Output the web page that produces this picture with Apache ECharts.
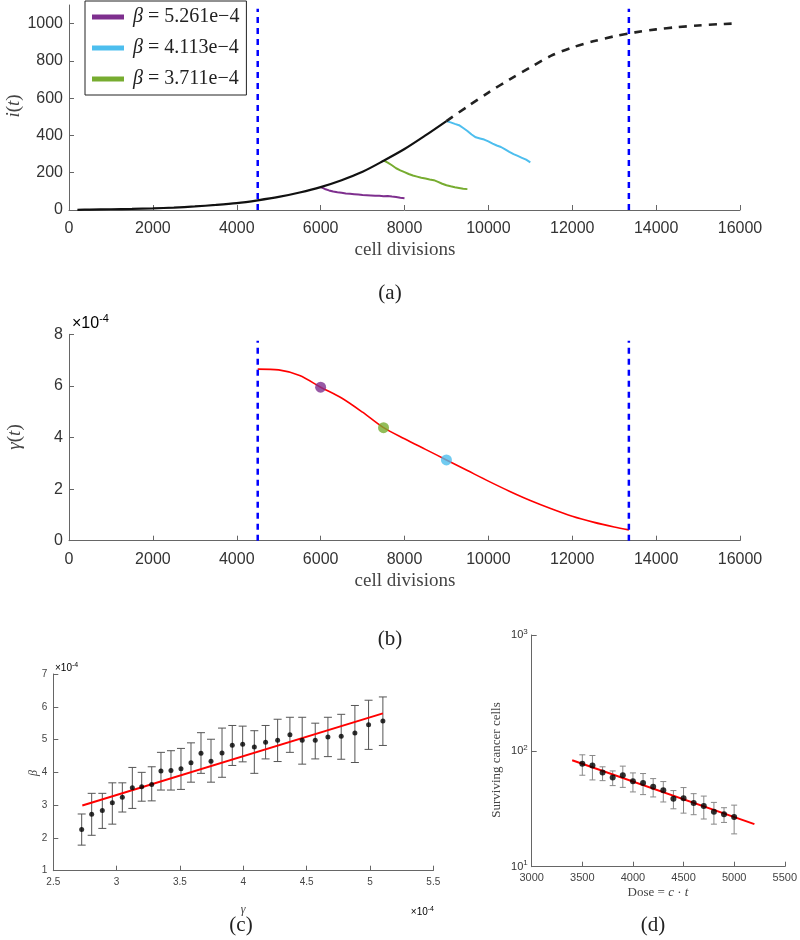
<!DOCTYPE html>
<html><head><meta charset="utf-8">
<script src="https://cdn.jsdelivr.net/npm/echarts@6/dist/echarts.min.js"></script>
<style>html,body{margin:0;padding:0;background:#fff}#c{width:800px;height:940px}</style>
</head><body><div id="c"></div>
<script>
// ---------- Panel (a): i(t) ----------
const fitT = [200,500,1000,1500,2000,2500,3000,3500,4000,4500,5000,5500,6000,6500,7000,7500,8000,8500,9000];
const fitI = [1,2,4,6,9,13,19,27,37,52,70,94,123,160,205,264,327,400,477];
const extT = [9000,9500,10000,10500,11000,11500,12000,12500,13000,13500,14000,14500,15000,15500,15800];
const extI = [477,555,630,700,765,828,872,905,932,953,969,981,990,997,1000];
const purpleT = [6000,6100,6200,6300,6400,6500,6600,6700,6800,6900,7000,7100,7200,7300,7400,7500,7600,7700,7800,7900,8000];
const purpleI = [123,113,105,99,95,92,89,87,85,83,80,79,78,76,77,74,75,72,70,66,63];
const greenT = [7500,7600,7700,7800,7900,8000,8100,8200,8300,8400,8500,8600,8700,8800,8900,9000,9100,9200,9300,9400,9500];
const greenI = [266,254,240,224,213,203,193,185,179,173,169,164,160,151,141,133,127,122,118,114,112];
const blueT = [9000,9100,9200,9300,9400,9500,9600,9700,9800,9900,10000,10100,10200,10300,10400,10500,10600,10700,10800,10900,11000];
const blueI = [477,470,462,455,440,424,405,390,384,378,368,356,346,338,325,312,300,290,280,270,256];
const betaLabels = ['5.261e\u22124','4.113e\u22124','3.711e\u22124'];
const splitT = [4500, 13350];
const splitTopA = 1080;
const yTicksA = [0,200,400,600,800,1000];

// ---------- Panel (b): gamma(t) (x1e-4) ----------
const gammaT = [4500,5000,5500,6000,6500,7000,7500,8000,8500,9000,9500,10000,10500,11000,11500,12000,12500,13000,13350];
const gammaV = [6.65,6.62,6.4,5.95,5.53,4.98,4.38,3.95,3.54,3.13,2.72,2.31,1.92,1.56,1.24,0.95,0.72,0.53,0.42];
const dotT = [6000,7500,9000];
const dotV = [5.95,4.38,3.13];
const splitTopB = 7.75;

// ---------- Panel (c): beta vs gamma (x1e-4) ----------
const gammaC = [2.724,2.803,2.887,2.966,3.045,3.124,3.198,3.277,3.350,3.429,3.508,3.587,3.666,3.745,3.832,3.913,3.995,4.087,4.176,4.271,4.368,4.465,4.568,4.668,4.773,4.881,4.989,5.102];
const betaC = [2.26,2.72,2.84,3.07,3.24,3.53,3.56,3.63,4.04,4.06,4.11,4.29,4.58,4.34,4.59,4.83,4.86,4.77,4.92,4.98,5.15,4.98,4.98,5.08,5.10,5.20,5.45,5.57];
const betaLow = [1.78,2.08,2.29,2.42,2.79,2.90,3.12,3.13,3.46,3.46,3.48,3.70,3.97,3.70,3.85,4.21,4.32,3.97,4.41,4.33,4.61,4.25,4.41,4.48,4.40,4.30,4.70,4.82];
const betaHigh = [2.73,3.36,3.36,3.68,3.68,4.15,4.00,4.17,4.61,4.66,4.73,4.90,5.21,5.01,5.35,5.43,5.41,5.27,5.43,5.62,5.68,5.68,5.50,5.68,5.77,6.04,6.20,6.30];
const fitCx = [2.729, 5.102];
const fitCy = [2.99, 5.80];

// ---------- Panel (d): surviving cells vs dose ----------
const dose = [3500,3600,3700,3800,3900,4000,4100,4200,4300,4400,4500,4600,4700,4800,4900,5000];
const cells = [77.3,74.6,65.0,58.8,61.5,54.6,52.8,49.1,45.6,38.6,38.9,35.5,33.4,29.8,28.3,26.8];
const cellsHigh = [92.4,91.2,72.8,67.1,73.8,64.5,63.7,57.6,54.3,45.4,48.2,42.7,40.7,35.9,32.3,34.0];
const cellsLow = [61.6,56.1,55.3,50.1,48.4,44.2,41.9,40.0,36.2,31.6,29.0,28.1,25.8,23.3,24.1,19.2];
const fitDx = [3400, 5200];
const fitDy = [83, 23.3];

const SERIF = "'Liberation Serif','DejaVu Serif',serif";
const SANS = "'Liberation Sans',Arial,sans-serif";
const PURPLE = '#7E2F8E', CYAN = '#4DBEEE', GREEN = '#77AC30';

const zip = (a, b) => a.map((v, i) => [v, b[i]]);
const zip3 = (a, b, c) => a.map((v, i) => [v, b[i], c[i]]);

function axisStyle(fs, color, margin) {
  return {
    axisLine: { show: true, onZero: false, lineStyle: { color: '#666', width: 1 } },
    axisTick: { show: true, inside: true, length: 5, lineStyle: { color: '#666' } },
    splitLine: { show: false },
    axisLabel: { color: color, fontFamily: SANS, fontSize: fs, margin: margin, formatter: v => String(v) }
  };
}

function errRender(capHalf, color) {
  return function (params, api) {
    const x = api.value(0), lo = api.value(1), hi = api.value(2);
    const a = api.coord([x, lo]), b = api.coord([x, hi]);
    const st = { stroke: color, lineWidth: 1 };
    return { type: 'group', children: [
      { type: 'line', shape: { x1: a[0], y1: a[1], x2: b[0], y2: b[1] }, style: st },
      { type: 'line', shape: { x1: a[0] - capHalf, y1: a[1], x2: a[0] + capHalf, y2: a[1] }, style: st },
      { type: 'line', shape: { x1: b[0] - capHalf, y1: b[1], x2: b[0] + capHalf, y2: b[1] }, style: st }
    ]};
  };
}

const supRich = (fs) => ({
  n: { fontFamily: SANS, fontSize: fs, color: '#333' },
  s: { fontFamily: SANS, fontSize: Math.round(fs * 0.7), color: '#333', padding: [0, 0, Math.round(fs * 0.6), 0] }
});

const mk = (x, y, text, font, extra) => ({
  type: 'text', x: x, y: y,
  style: Object.assign({ text: text, font: font, fill: '#333', align: 'center', verticalAlign: 'middle' }, extra || {})
});

const chart = echarts.init(document.getElementById('c'), null, { renderer: 'canvas' });

const dashV = (t, top, xi, yi) => ({
  type: 'line', xAxisIndex: xi, yAxisIndex: yi, data: [[t, 0], [t, top]],
  symbol: 'none', silent: true, z: 5,
  lineStyle: { color: '#0000FF', width: 2.5, type: [6, 5] }
});

const yA = Object.assign({ type: 'value', gridIndex: 0, min: 0, max: 1100, interval: 200 }, axisStyle(16, '#333', 6));
yA.axisLabel.customValues = yTicksA; yA.axisTick.customValues = yTicksA;
const yD = Object.assign({ type: 'log', logBase: 10, gridIndex: 3, min: 10, max: 1000 }, axisStyle(11, '#444', 4));
yD.axisLabel.formatter = v => '{n|10}{s|' + Math.round(Math.log10(v)) + '}';
yD.axisLabel.rich = supRich(11);

const option = {
  animation: false,
  backgroundColor: '#fff',
  grid: [
    { left: 69, top: 5, width: 671, height: 205 },
    { left: 69, top: 334.3, width: 671, height: 206.4 },
    { left: 53.3, top: 674, width: 380, height: 196.7 },
    { left: 531.7, top: 635, width: 255, height: 231.7 }
  ],
  xAxis: [
    Object.assign({ type: 'value', gridIndex: 0, min: 0, max: 16000, interval: 2000 }, axisStyle(16, '#333', 11)),
    Object.assign({ type: 'value', gridIndex: 1, min: 0, max: 16000, interval: 2000 }, axisStyle(16, '#333', 11)),
    Object.assign({ type: 'value', gridIndex: 2, min: 2.5, max: 5.5, interval: 0.5 }, axisStyle(10, '#444', 7)),
    Object.assign({ type: 'value', gridIndex: 3, min: 3000, max: 5500, interval: 500 }, axisStyle(11, '#444', 6))
  ],
  yAxis: [
    yA,
    Object.assign({ type: 'value', gridIndex: 1, min: 0, max: 8, interval: 2 }, axisStyle(16, '#333', 6)),
    Object.assign({ type: 'value', gridIndex: 2, min: 1, max: 7, interval: 1 }, axisStyle(10, '#444', 6)),
    yD
  ],
  legend: {
    data: betaLabels.map(l => '\u03B2 = ' + l),
    orient: 'vertical', left: 85, top: 1,
    backgroundColor: '#fff', borderColor: '#222', borderWidth: 1,
    padding: [5, 7, 5, 7], itemGap: 9, itemWidth: 32, itemHeight: 5, icon: 'rect',
    formatter: name => '{b|\u03B2} = ' + name.slice(4),
    textStyle: { fontFamily: SERIF, fontSize: 20, lineHeight: 22, color: '#222',
      rich: { b: { fontFamily: SERIF, fontStyle: 'italic', fontSize: 20, lineHeight: 22, color: '#222', padding: [0, 0, 0, 4] } } }
  },
  series: [
    // Panel (a)
    { name: '\u03B2 = ' + betaLabels[0], type: 'line', xAxisIndex: 0, yAxisIndex: 0, data: zip(purpleT, purpleI), symbol: 'none', color: PURPLE, lineStyle: { width: 2, color: PURPLE } },
    { name: '\u03B2 = ' + betaLabels[1], type: 'line', xAxisIndex: 0, yAxisIndex: 0, data: zip(blueT, blueI), symbol: 'none', color: CYAN, lineStyle: { width: 2, color: CYAN } },
    { name: '\u03B2 = ' + betaLabels[2], type: 'line', xAxisIndex: 0, yAxisIndex: 0, data: zip(greenT, greenI), symbol: 'none', color: GREEN, lineStyle: { width: 2, color: GREEN } },
    { type: 'line', xAxisIndex: 0, yAxisIndex: 0, data: zip(fitT, fitI), symbol: 'none', smooth: 0.3, z: 4, lineStyle: { width: 2.2, color: '#111' } },
    { type: 'line', xAxisIndex: 0, yAxisIndex: 0, data: zip(extT, extI), symbol: 'none', smooth: 0.3, z: 4, lineStyle: { width: 2.6, color: '#222', type: [8, 7] } },
    dashV(splitT[0], splitTopA, 0, 0), dashV(splitT[1], splitTopA, 0, 0),
    // Panel (b)
    { type: 'line', xAxisIndex: 1, yAxisIndex: 1, data: zip(gammaT, gammaV), symbol: 'none', smooth: 0.3, lineStyle: { width: 1.6, color: '#FF0000' } },
    dashV(splitT[0], splitTopB, 1, 1), dashV(splitT[1], splitTopB, 1, 1),
    { type: 'scatter', xAxisIndex: 1, yAxisIndex: 1, symbolSize: 11, z: 6,
      data: zip(dotT, dotV).map((p, i) => ({ value: p, itemStyle: { color: [PURPLE, GREEN, CYAN][i] } })) },
    // Panel (c)
    { type: 'custom', xAxisIndex: 2, yAxisIndex: 2, renderItem: errRender(4, '#555'), data: zip3(gammaC, betaLow, betaHigh), encode: { x: 0, y: [1, 2] }, z: 2 },
    { type: 'line', xAxisIndex: 2, yAxisIndex: 2, data: zip(fitCx, fitCy), symbol: 'none', z: 3, lineStyle: { width: 2, color: '#FF0000' } },
    { type: 'scatter', xAxisIndex: 2, yAxisIndex: 2, data: zip(gammaC, betaC), symbolSize: 5, z: 4, itemStyle: { color: '#000' } },
    // Panel (d)
    { type: 'custom', xAxisIndex: 3, yAxisIndex: 3, renderItem: errRender(3, '#888'), data: zip3(dose, cellsLow, cellsHigh), encode: { x: 0, y: [1, 2] }, z: 2 },
    { type: 'line', xAxisIndex: 3, yAxisIndex: 3, data: zip(fitDx, fitDy), symbol: 'none', z: 3, lineStyle: { width: 2, color: '#FF0000' } },
    { type: 'scatter', xAxisIndex: 3, yAxisIndex: 3, data: zip(dose, cells), symbolSize: 6, z: 4, itemStyle: { color: '#000' } }
  ],
  graphic: [
    mk(405, 250, 'cell divisions', '19px ' + SERIF, { fill: '#444' }),
    mk(390, 293, '(a)', '21px ' + SERIF, { fill: '#222' }),
    { type: 'text', x: 14, y: 106, rotation: Math.PI / 2,
      style: { text: '{i|i}{n|(}{i|t}{n|)}', align: 'center', verticalAlign: 'middle',
        rich: { i: { fontFamily: SERIF, fontStyle: 'italic', fontSize: 19, fill: '#444' }, n: { fontFamily: SERIF, fontSize: 19, fill: '#444' } } } },
    mk(405, 581, 'cell divisions', '19px ' + SERIF, { fill: '#444' }),
    mk(390, 639, '(b)', '21px ' + SERIF, { fill: '#222' }),
    { type: 'text', x: 15, y: 437, rotation: Math.PI / 2,
      style: { text: '{i|\u03B3}{n|(}{i|t}{n|)}', align: 'center', verticalAlign: 'middle',
        rich: { i: { fontFamily: SERIF, fontStyle: 'italic', fontSize: 19, fill: '#444' }, n: { fontFamily: SERIF, fontSize: 19, fill: '#444' } } } },
    { type: 'text', x: 72, y: 324,
      style: { text: '{n|\u00D710}{s|-4}', align: 'left', verticalAlign: 'middle', rich: supRich(16) } },
    // Panel (c)
    { type: 'text', x: 55, y: 668,
      style: { text: '{n|\u00D710}{s|-4}', align: 'left', verticalAlign: 'middle', rich: supRich(10) } },
    { type: 'text', x: 434, y: 912,
      style: { text: '{n|\u00D710}{s|-4}', align: 'right', verticalAlign: 'middle', rich: supRich(10) } },
    { type: 'text', x: 34, y: 773, rotation: Math.PI / 2,
      style: { text: '\u03B2', font: 'italic 12px ' + SERIF, fill: '#444', align: 'center', verticalAlign: 'middle' } },
    { type: 'text', x: 243, y: 910,
      style: { text: '\u03B3', font: 'italic 12px ' + SERIF, fill: '#444', align: 'center', verticalAlign: 'middle' } },
    mk(241, 925, '(c)', '21px ' + SERIF, { fill: '#222' }),
    // Panel (d)
    { type: 'text', x: 497, y: 760, rotation: Math.PI / 2,
      style: { text: 'Surviving cancer cells', font: '13px ' + SERIF, fill: '#444', align: 'center', verticalAlign: 'middle' } },
    { type: 'text', x: 658, y: 893,
      style: { text: '{n|Dose = }{i|c}{n| \u00B7 }{i|t}', align: 'center', verticalAlign: 'middle',
        rich: { n: { fontFamily: SERIF, fontSize: 13, fill: '#444' }, i: { fontFamily: SERIF, fontStyle: 'italic', fontSize: 13, fill: '#444' } } } },
    mk(653, 925, '(d)', '21px ' + SERIF, { fill: '#222' })
  ]
};
chart.setOption(option);
</script></body></html>
